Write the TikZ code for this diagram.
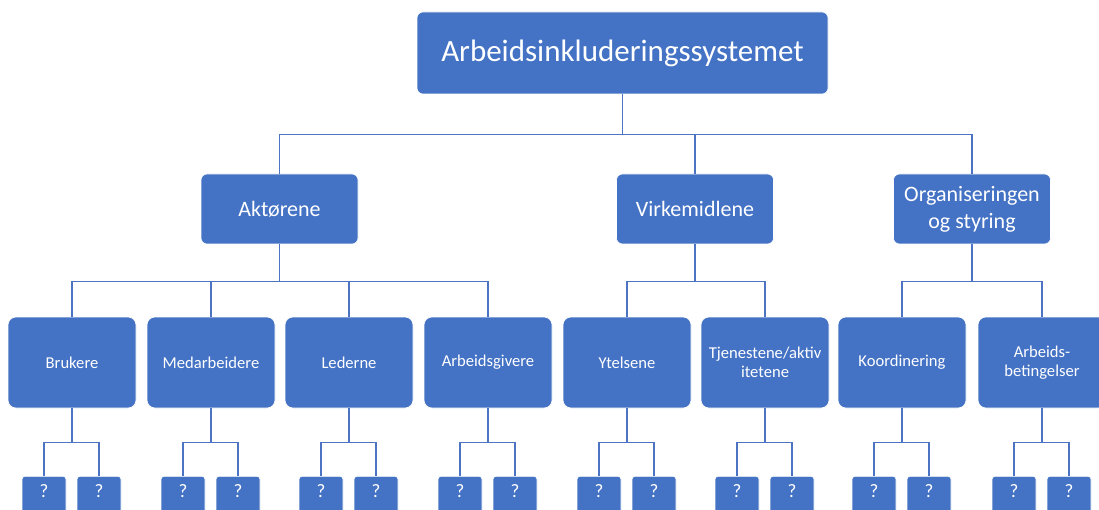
\documentclass[tikz,border=0pt]{standalone}
\usepackage{fontspec}
\setmainfont{Carlito}
\definecolor{ofblue}{RGB}{68,114,196}
\definecolor{lineblue}{RGB}{76,116,194}
\tikzset{
  box/.style={fill=ofblue, draw=white, line width=0.6pt, text=white, align=center, inner sep=0pt},
  topbox/.style={box, rounded corners=6pt, minimum width=411pt, minimum height=82pt, font=\fontsize{31}{37}\selectfont},
  midbox/.style={box, rounded corners=6pt, minimum width=157pt, minimum height=70pt, font=\fontsize{22}{27}\selectfont},
  leafbox/.style={box, rounded corners=8pt, minimum width=128pt, minimum height=91pt, font=\fontsize{16.6}{19.5}\selectfont},
  qbox/.style={box, rounded corners=3pt, anchor=north, minimum width=44pt, text height=21.5pt, text depth=40pt, inner ysep=0pt, font=\fontsize{19}{22}\selectfont},
  conn/.style={draw=lineblue, line width=1.5pt}
}
\begin{document}
\begin{tikzpicture}[x=1pt,y=-1pt]
\useasboundingbox (0,0) rectangle (1099,510);
\clip (0,0) rectangle (1099,510);
% top
\node[topbox] (top) at (622.5,53) {Arbeidsinkluderingssystemet};
% level 2
\node[midbox] (a) at (279.5,209) {Aktørene};
\node[midbox] (v) at (695,209) {Virkemidlene};
\node[midbox] (o) at (972,209) {Organiseringen\\og styring};
% level 3
\node[leafbox] (c1) at (72,362.5) {Brukere};
\node[leafbox] (c2) at (211,362.5) {Medarbeidere};
\node[leafbox] (c3) at (349,362.5) {Lederne};
\node[leafbox] (c4) at (488,362.5) {Arbeidsgivere};
\node[leafbox] (c5) at (627,362.5) {Ytelsene};
\node[leafbox] (c6) at (765,362.5) {Tjenestene/aktiv\\itetene};
\node[leafbox] (c7) at (902,362.5) {Koordinering};
\node[leafbox] (c8) at (1042,362.5) {Arbeids-\\betingelser};
% level 4
\node[qbox] (q1a) at (44,476) {?};
\node[qbox] (q1b) at (99,476) {?};
\node[qbox] (q2a) at (183,476) {?};
\node[qbox] (q2b) at (238,476) {?};
\node[qbox] (q3a) at (321,476) {?};
\node[qbox] (q3b) at (376,476) {?};
\node[qbox] (q4a) at (460,476) {?};
\node[qbox] (q4b) at (515,476) {?};
\node[qbox] (q5a) at (599,476) {?};
\node[qbox] (q5b) at (654,476) {?};
\node[qbox] (q6a) at (737,476) {?};
\node[qbox] (q6b) at (792,476) {?};
\node[qbox] (q7a) at (874,476) {?};
\node[qbox] (q7b) at (929,476) {?};
\node[qbox] (q8a) at (1014,476) {?};
\node[qbox] (q8b) at (1069,476) {?};
% connectors
\foreach \c in {a,v,o} \draw[conn] (top.south) -- ++(0,40) -| (\c.north);
\foreach \c in {c1,c2,c3,c4} \draw[conn] (a.south) -- ++(0,37) -| (\c.north);
\foreach \c in {c5,c6} \draw[conn] (v.south) -- ++(0,37) -| (\c.north);
\foreach \c in {c7,c8} \draw[conn] (o.south) -- ++(0,37) -| (\c.north);
\foreach \i in {1,...,8} {
  \draw[conn] (c\i.south) -- ++(0,34) -| (q\i a.north);
  \draw[conn] (c\i.south) -- ++(0,34) -| (q\i b.north);
}
\end{tikzpicture}
\end{document}
